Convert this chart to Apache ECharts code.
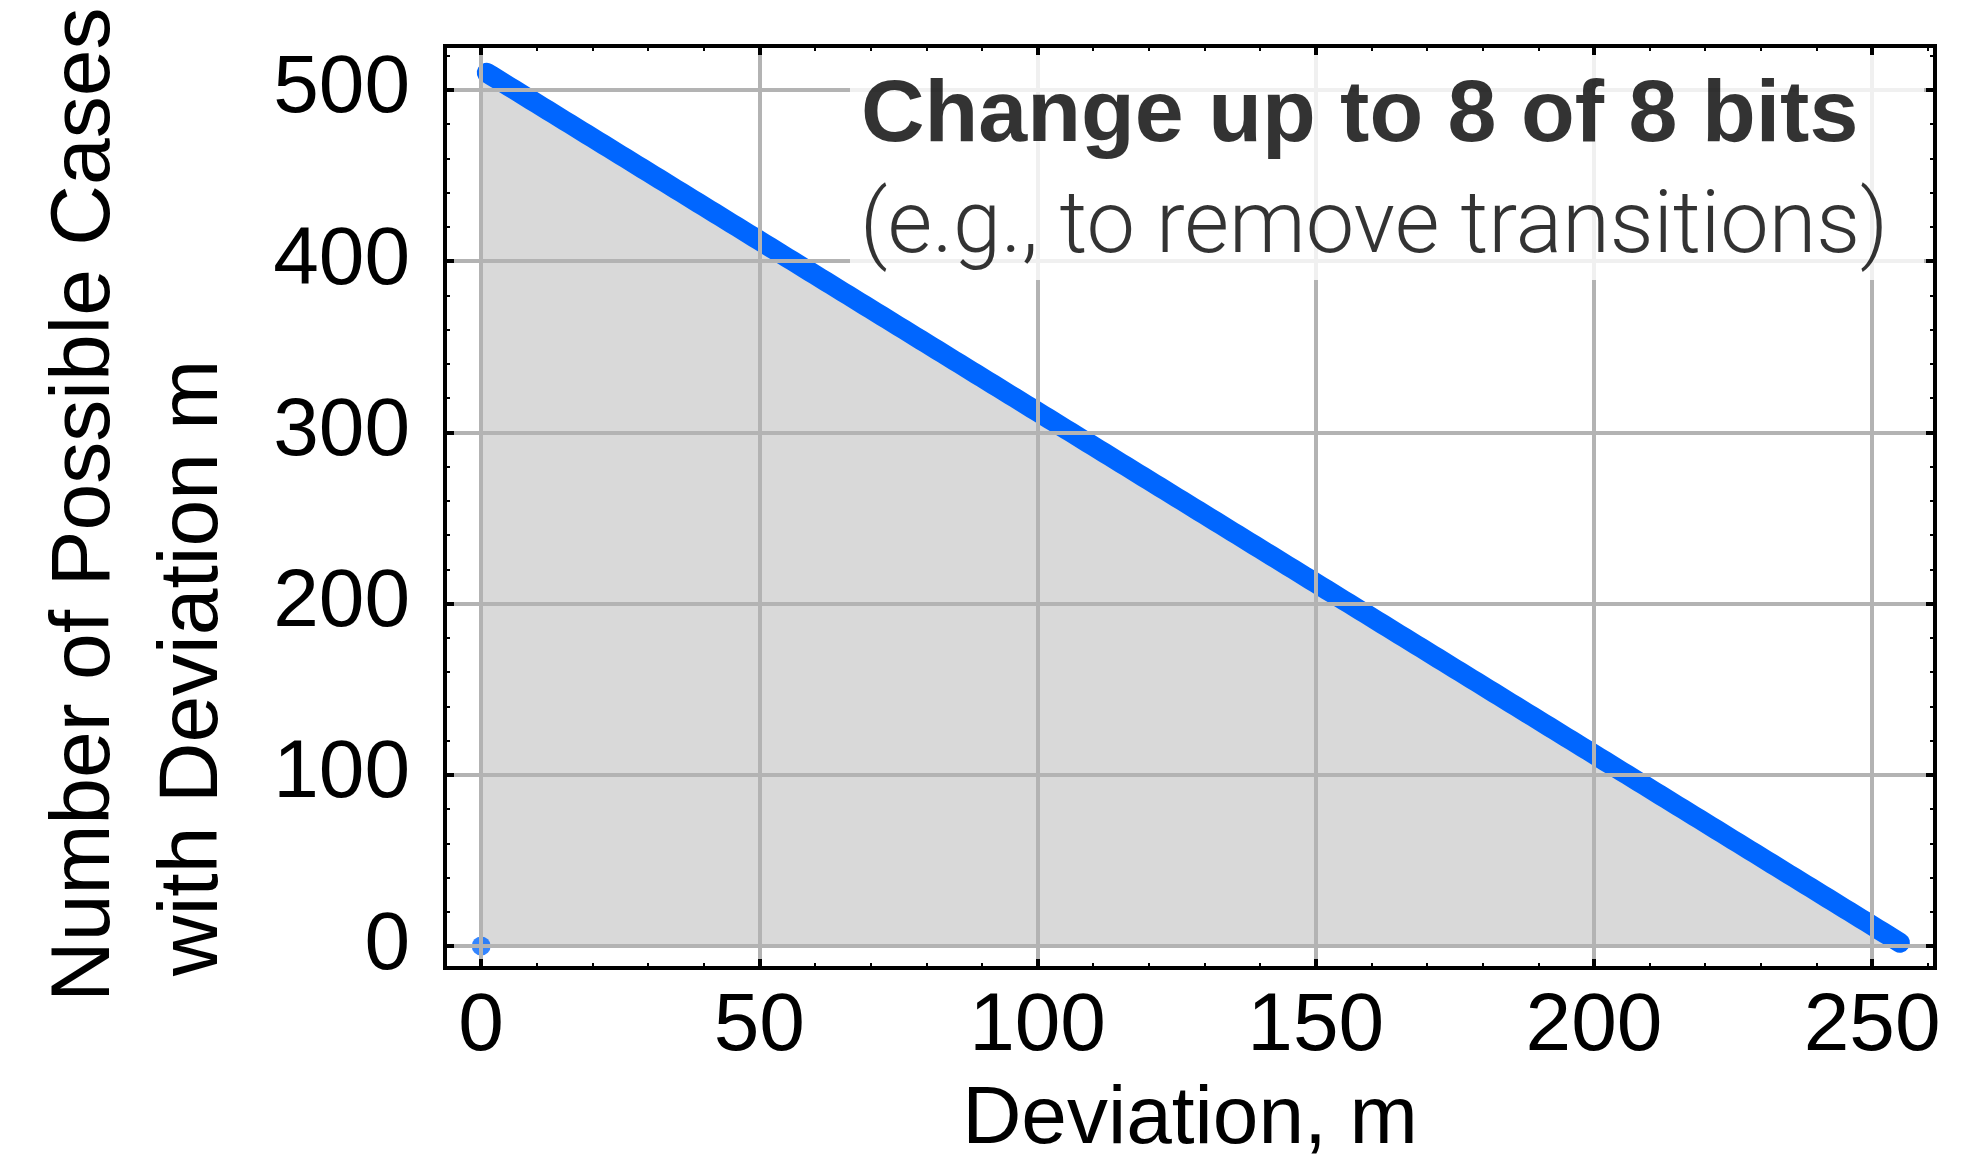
<!DOCTYPE html>
<html>
<head>
<meta charset="utf-8">
<script src="https://cdn.jsdelivr.net/npm/echarts@6/dist/echarts.min.js"></script>
<style>
  html, body { margin: 0; padding: 0; background: #ffffff; }
  #chart { width: 1972px; height: 1170px; }
</style>
</head>
<body>
<div id="chart"></div>
<script>
// Deviation m (1..255) and the number of possible cases for each deviation
const deviations = [
  1,2,3,4,5,6,7,8,9,10,11,12,13,14,15,16,17,18,19,20,
  21,22,23,24,25,26,27,28,29,30,31,32,33,34,35,36,37,38,39,40,
  41,42,43,44,45,46,47,48,49,50,51,52,53,54,55,56,57,58,59,60,
  61,62,63,64,65,66,67,68,69,70,71,72,73,74,75,76,77,78,79,80,
  81,82,83,84,85,86,87,88,89,90,91,92,93,94,95,96,97,98,99,100,
  101,102,103,104,105,106,107,108,109,110,111,112,113,114,115,116,117,118,119,120,
  121,122,123,124,125,126,127,128,129,130,131,132,133,134,135,136,137,138,139,140,
  141,142,143,144,145,146,147,148,149,150,151,152,153,154,155,156,157,158,159,160,
  161,162,163,164,165,166,167,168,169,170,171,172,173,174,175,176,177,178,179,180,
  181,182,183,184,185,186,187,188,189,190,191,192,193,194,195,196,197,198,199,200,
  201,202,203,204,205,206,207,208,209,210,211,212,213,214,215,216,217,218,219,220,
  221,222,223,224,225,226,227,228,229,230,231,232,233,234,235,236,237,238,239,240,
  241,242,243,244,245,246,247,248,249,250,251,252,253,254,255
];
const caseCounts = [
  510,508,506,504,502,500,498,496,494,492,490,488,486,484,482,480,478,476,474,472,
  470,468,466,464,462,460,458,456,454,452,450,448,446,444,442,440,438,436,434,432,
  430,428,426,424,422,420,418,416,414,412,410,408,406,404,402,400,398,396,394,392,
  390,388,386,384,382,380,378,376,374,372,370,368,366,364,362,360,358,356,354,352,
  350,348,346,344,342,340,338,336,334,332,330,328,326,324,322,320,318,316,314,312,
  310,308,306,304,302,300,298,296,294,292,290,288,286,284,282,280,278,276,274,272,
  270,268,266,264,262,260,258,256,254,252,250,248,246,244,242,240,238,236,234,232,
  230,228,226,224,222,220,218,216,214,212,210,208,206,204,202,200,198,196,194,192,
  190,188,186,184,182,180,178,176,174,172,170,168,166,164,162,160,158,156,154,152,
  150,148,146,144,142,140,138,136,134,132,130,128,126,124,122,120,118,116,114,112,
  110,108,106,104,102,100,98,96,94,92,90,88,86,84,82,80,78,76,74,72,
  70,68,66,64,62,60,58,56,54,52,50,48,46,44,42,40,38,36,34,32,
  30,28,26,24,22,20,18,16,14,12,10,8,6,4,2
];
// The single case at zero deviation
const zeroDeviation = [0];
const zeroCount = [0];
// Upper edge of the shaded region
const fillEdgeM = [0, 255];
const fillEdgeCount = [512, 2];

// Tick positions and labels
const xMajorTicks = [0, 50, 100, 150, 200, 250];
const xMinorTicks = [10,20,30,40,60,70,80,90,110,120,130,140,160,170,180,190,210,220,230,240,260];
const yMajorTicks = [0, 100, 200, 300, 400, 500];
const yMinorTicks = [20,40,60,80,120,140,160,180,220,240,260,280,320,340,360,380,420,440,460,480,520];

const xTitle = 'Deviation, m';
const yTitleLines = ['Number of Possible Cases', 'with Deviation m'];
const noteLines = ['Change up to 8 of 8 bits', '(e.g., to remove transitions)'];

const FONT = '"Liberation Sans", Arial, Helvetica, sans-serif';
const X_RANGE = { min: -6.5, max: 261.3 };
const Y_RANGE = { min: -12.8, max: 525.6 };
const GRID = { left: 445, right: 37, top: 46, bottom: 202 };

function makeAxis(kind, gridIndex, position, o) {
  const range = kind === 'x' ? X_RANGE : Y_RANGE;
  return {
    type: 'value',
    gridIndex: gridIndex,
    position: position,
    min: range.min,
    max: range.max,
    z: o.z,
    axisLine: { show: !!o.line, onZero: false, lineStyle: { color: '#000', width: 4, cap: 'square' } },
    axisTick: {
      show: !!o.tickLen, inside: true, length: o.tickLen || 1,
      customValues: o.ticks,
      lineStyle: { color: '#000', width: o.tickWidth || 2 }
    },
    axisLabel: o.labels ? Object.assign({
      show: true,
      customValues: o.ticks,
      color: '#000',
      fontFamily: FONT,
      fontSize: 82
    }, o.labels) : { show: false },
    splitLine: { show: !!o.split, lineStyle: { color: '#b3b3b3', width: 4 } },
    minorTick: { show: false },
    minorSplitLine: { show: false },
    splitArea: { show: false }
  };
}

const chart = echarts.init(document.getElementById('chart'), null, { renderer: 'canvas' });

const option = {
  animation: false,
  backgroundColor: '#ffffff',
  grid: [0, 1, 2].map(() => Object.assign({ containLabel: false, outerBoundsMode: 'none' }, GRID)),
  xAxis: [
    // grid lines and tick labels
    makeAxis('x', 0, 'bottom', { z: 5, ticks: xMajorTicks, split: true, labels: { margin: 18 } }),
    // frame with minor ticks
    makeAxis('x', 1, 'bottom', { z: 6, ticks: xMinorTicks, line: true, tickLen: 5, tickWidth: 2 }),
    makeAxis('x', 1, 'top', { z: 6, ticks: xMinorTicks, line: true, tickLen: 5, tickWidth: 2 }),
    // major ticks
    makeAxis('x', 2, 'bottom', { z: 7, ticks: xMajorTicks, tickLen: 9, tickWidth: 4 }),
    makeAxis('x', 2, 'top', { z: 7, ticks: xMajorTicks, tickLen: 9, tickWidth: 4 })
  ],
  yAxis: [
    makeAxis('y', 0, 'left', { z: 5, ticks: yMajorTicks, split: true, labels: { margin: 35, padding: [0, 0, 18, 0] } }),
    makeAxis('y', 1, 'left', { z: 6, ticks: yMinorTicks, line: true, tickLen: 5, tickWidth: 2 }),
    makeAxis('y', 1, 'right', { z: 6, ticks: yMinorTicks, line: true, tickLen: 5, tickWidth: 2 }),
    makeAxis('y', 2, 'left', { z: 7, ticks: yMajorTicks, tickLen: 9, tickWidth: 4 }),
    makeAxis('y', 2, 'right', { z: 7, ticks: yMajorTicks, tickLen: 9, tickWidth: 4 })
  ],
  series: [
    {
      type: 'line',
      xAxisIndex: 0, yAxisIndex: 0,
      data: fillEdgeM.map((m, i) => [m, fillEdgeCount[i]]),
      symbol: 'none',
      lineStyle: { width: 0, opacity: 0 },
      areaStyle: { color: '#d9d9d9', opacity: 1 },
      silent: true,
      z: 1
    },
    {
      type: 'line',
      xAxisIndex: 0, yAxisIndex: 0,
      data: deviations.map((m, i) => [m, caseCounts[i]]),
      symbol: 'none',
      lineStyle: { color: '#0066ff', width: 20, cap: 'round', join: 'round' },
      silent: true,
      z: 2
    },
    {
      type: 'scatter',
      xAxisIndex: 0, yAxisIndex: 0,
      data: zeroDeviation.map((m, i) => [m, zeroCount[i]]),
      symbolSize: 19,
      itemStyle: { color: '#0066ff' },
      silent: true,
      z: 2
    }
  ],
  graphic: [
    {
      type: 'text', x: 1190, y: 1120, z: 30, silent: true,
      style: { text: xTitle, font: '82px ' + FONT, fill: '#000', align: 'center', verticalAlign: 'middle' }
    },
    {
      type: 'text', x: 86, y: 1002, rotation: Math.PI / 2, z: 30, silent: true,
      style: { text: yTitleLines[0], font: '84px ' + FONT, fill: '#000', align: 'left', verticalAlign: 'middle' }
    },
    {
      type: 'text', x: 194, y: 976, rotation: Math.PI / 2, z: 30, silent: true,
      style: { text: yTitleLines[1], font: '84px ' + FONT, fill: '#000', align: 'left', verticalAlign: 'middle' }
    },
    {
      type: 'rect', z: 20, silent: true,
      shape: { x: 850, y: 55, width: 1074, height: 225 },
      style: { fill: 'rgba(255,255,255,0.8)' }
    },
    {
      type: 'text', x: 861, y: 117, z: 21, silent: true,
      style: { text: noteLines[0], font: 'bold 88px ' + FONT, fill: 'rgba(0,0,0,0.8)', align: 'left', verticalAlign: 'middle' }
    },
    {
      type: 'text', x: 860, y: 230, z: 21, silent: true,
      style: { text: noteLines[1], font: '300 86.5px Roboto, ' + FONT, fill: 'rgba(0,0,0,0.8)', align: 'left', verticalAlign: 'middle' }
    }
  ]
};

chart.setOption(option);
</script>
</body>
</html>
